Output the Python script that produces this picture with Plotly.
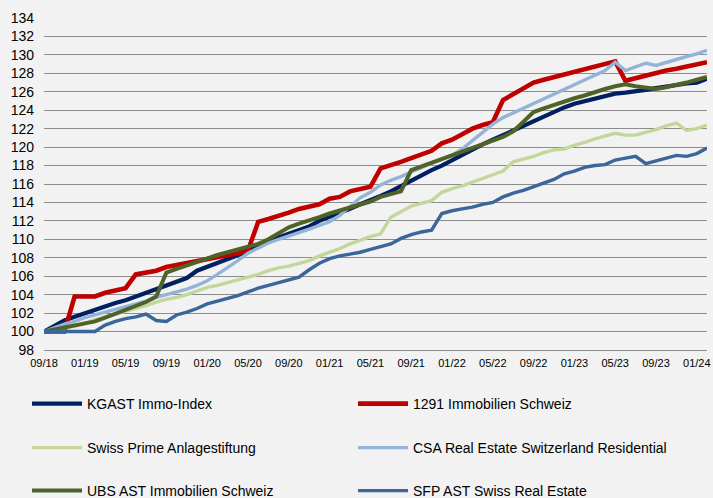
import plotly.graph_objects as go

# Month labels 09/18 .. 02/24
months = []
y, m = 2018, 9
for _ in range(66):
    months.append(f"{m:02d}/{str(y)[2:]}")
    m += 1
    if m > 12:
        m = 1
        y += 1

tick_labels = ["09/18", "01/19", "05/19", "09/19", "01/20", "05/20", "09/20", "01/21",
               "05/21", "09/21", "01/22", "05/22", "09/22", "01/23", "05/23", "09/23", "01/24"]
y_ticks = list(range(98, 135, 2))

kgast = [100.0, 100.6, 101.2, 101.6, 102.0, 102.4, 102.8, 103.1, 103.4, 103.8,
         104.1, 104.5, 105.0, 105.3, 105.8, 106.6, 107.0, 107.4, 107.9, 108.3,
         108.7, 109.3, 109.8, 110.2, 110.6, 111.0, 111.4, 112.0, 112.4, 112.8,
         113.3, 113.8, 114.2, 114.7, 115.2, 115.8, 116.3, 116.9, 117.5, 118.0,
         118.6, 119.1, 119.7, 120.3, 120.8, 121.3, 121.8, 122.3, 122.9, 123.4,
         123.9, 124.3, 124.7, 125.0, 125.3, 125.6, 125.8, 125.9, 126.0, 126.2,
         126.4, 126.6, 126.8, 126.9, 127.0, 127.4]

imm1291 = [100.0, 100.0, 100.0, 103.8, 103.8, 103.8, 104.2, 104.5, 104.7, 106.2,
           106.4, 106.6, 107.0, 107.2, 107.4, 107.6, 107.9, 108.1, 108.3, 108.5,
           108.8, 111.9, 112.2, 112.5, 112.9, 113.3, 113.6, 113.8, 114.4, 114.6,
           115.2, 115.4, 115.7, 117.7, 118.0, 118.4, 118.8, 119.2, 119.6, 120.4,
           120.8, 121.4, 122.0, 122.4, 122.7, 125.1, 125.7, 126.4, 127.0, 127.3,
           127.6, 127.9, 128.2, 128.5, 128.8, 129.0, 129.3, 127.2, 127.5, 127.7,
           128.0, 128.3, 128.5, 128.7, 128.9, 129.2]

swiss_prime = [100.0, 100.2, 100.4, 100.6, 100.9, 101.3, 101.6, 101.9, 102.2, 102.5,
               102.8, 103.2, 103.5, 103.7, 104.0, 104.4, 104.8, 105.0, 105.3, 105.6,
               105.9, 106.2, 106.6, 106.9, 107.1, 107.4, 107.7, 108.2, 108.6, 109.0,
               109.5, 109.9, 110.3, 110.6, 112.4, 113.0, 113.6, 113.9, 114.2, 115.1,
               115.5, 115.8, 116.2, 116.6, 117.0, 117.4, 118.4, 118.7, 119.0, 119.4,
               119.7, 119.8, 120.2, 120.5, 120.9, 121.2, 121.5, 121.3, 121.3, 121.6,
               121.9, 122.3, 122.6, 121.8, 122.0, 122.4]

csa = [100.0, 100.4, 100.8, 101.1, 101.5, 101.8, 102.1, 102.4, 102.7, 103.0,
       103.3, 103.7, 104.0, 104.3, 104.6, 105.0, 105.5, 106.2, 106.9, 107.7,
       108.5, 109.1, 109.6, 110.0, 110.35, 110.7, 111.1, 111.5, 111.9, 112.6,
       113.6, 114.5, 115.1, 115.9, 116.4, 116.8, 117.3, 117.8, 118.3, 118.7,
       119.1, 119.8, 120.7, 121.6, 122.5, 123.2, 123.7, 124.2, 124.7, 125.2,
       125.7, 126.2, 126.7, 127.2, 127.7, 128.3, 129.2, 128.3, 128.7, 129.1,
       128.85, 129.2, 129.5, 129.8, 130.1, 130.5]

ubs = [100.0, 100.2, 100.4, 100.6, 100.85, 101.1, 101.5, 101.9, 102.3, 102.7,
       103.2, 103.8, 106.4, 106.8, 107.2, 107.6, 108.0, 108.3, 108.6, 108.9,
       109.2, 109.5, 110.0, 110.6, 111.3, 111.7, 112.0, 112.4, 112.8, 113.1,
       113.5, 113.8, 114.1, 114.6, 114.9, 115.2, 117.5, 117.9, 118.3, 118.7,
       119.0, 119.4, 119.9, 120.3, 120.7, 121.1, 121.7, 122.7, 123.8, 124.2,
       124.6, 124.9, 125.3, 125.6, 126.0, 126.3, 126.6, 126.8, 126.6, 126.4,
       126.3, 126.5, 126.7, 127.0, 127.3, 127.6]

sfp = [100.0, 100.0, 100.0, 100.0, 100.0, 100.0, 100.7, 101.1, 101.4, 101.6,
       101.9, 101.2, 101.1, 101.8, 102.1, 102.5, 103.0, 103.3, 103.6, 103.9,
       104.3, 104.7, 105.0, 105.3, 105.6, 105.9, 106.7, 107.4, 107.9, 108.2,
       108.4, 108.6, 108.9, 109.2, 109.5, 110.1, 110.5, 110.8, 111.0, 112.8,
       113.1, 113.3, 113.5, 113.8, 114.0, 114.6, 115.0, 115.3, 115.7, 116.1,
       116.5, 117.1, 117.4, 117.8, 118.0, 118.1, 118.6, 118.8, 119.0, 118.2,
       118.5, 118.8, 119.1, 119.0, 119.3, 119.9]

series = [
    ("KGAST Immo-Index", kgast, "#002060", 4.2, "legend"),
    ("1291 Immobilien Schweiz", imm1291, "#C00000", 4.6, "legend"),
    ("Swiss Prime Anlagestiftung", swiss_prime, "#C4D79B", 3.4, "legend2"),
    ("CSA Real Estate Switzerland Residential", csa, "#95B3D7", 3.4, "legend2"),
    ("UBS AST Immobilien Schweiz", ubs, "#4F6228", 4.0, "legend3"),
    ("SFP AST Swiss Real Estate", sfp, "#3B6699", 3.4, "legend3"),
]

FONT = "Liberation Sans, Arial, sans-serif"
BG = "#F2F2F2"

fig = go.Figure()
for name, vals, color, w, lg in series:
    fig.add_trace(go.Scatter(
        x=months, y=vals, mode="lines", name=name,
        line=dict(color=color, width=w), legend=lg,
    ))

W, H = 713, 498
L, R, T, B = 44, 6, 18, 148
pw, ph = W - L - R, H - T - B

def px_to_paper_x(px):
    return (px - L) / pw

def px_to_paper_y(py):
    return (H - B - py) / ph

leg_common = dict(
    orientation="h", xanchor="left", yanchor="middle",
    font=dict(family=FONT, size=14, color="#000000"),
    bgcolor="rgba(0,0,0,0)", entrywidth=261, entrywidthmode="pixels",
    itemwidth=50, traceorder="normal",
)

fig.update_layout(
    width=W, height=H,
    margin=dict(l=L, r=R, t=T, b=B, autoexpand=False),
    paper_bgcolor=BG, plot_bgcolor=BG,
    font=dict(family=FONT, color="#000000"),
    showlegend=True,
    legend=dict(x=px_to_paper_x(27), y=px_to_paper_y(404), **leg_common),
    legend2=dict(x=px_to_paper_x(27), y=px_to_paper_y(448), **leg_common),
    legend3=dict(x=px_to_paper_x(27), y=px_to_paper_y(491), **leg_common),
    xaxis=dict(
        type="category", range=[0, len(months) - 1], automargin=False,
        tickmode="array", tickvals=tick_labels, ticktext=tick_labels,
        showgrid=False, zeroline=False,
        showline=True, linecolor="#8C8C8C", linewidth=1.3,
        ticks="", tickfont=dict(family=FONT, size=11, color="#000000"),
        ticklabelstandoff=3,
    ),
    yaxis=dict(
        range=[98, 134], tickmode="array", tickvals=y_ticks, automargin=False,
        showgrid=True, gridcolor="#8C8C8C", gridwidth=1.3,
        zeroline=False, showline=False, ticks="",
        tickfont=dict(family=FONT, size=14, color="#000000"),
        ticklabelstandoff=9,
    ),
)

fig.write_html(
    "out.html",
    config={"displayModeBar": False},
    post_script="document.body.style.margin='0';document.body.style.background='" + BG + "';",
)
